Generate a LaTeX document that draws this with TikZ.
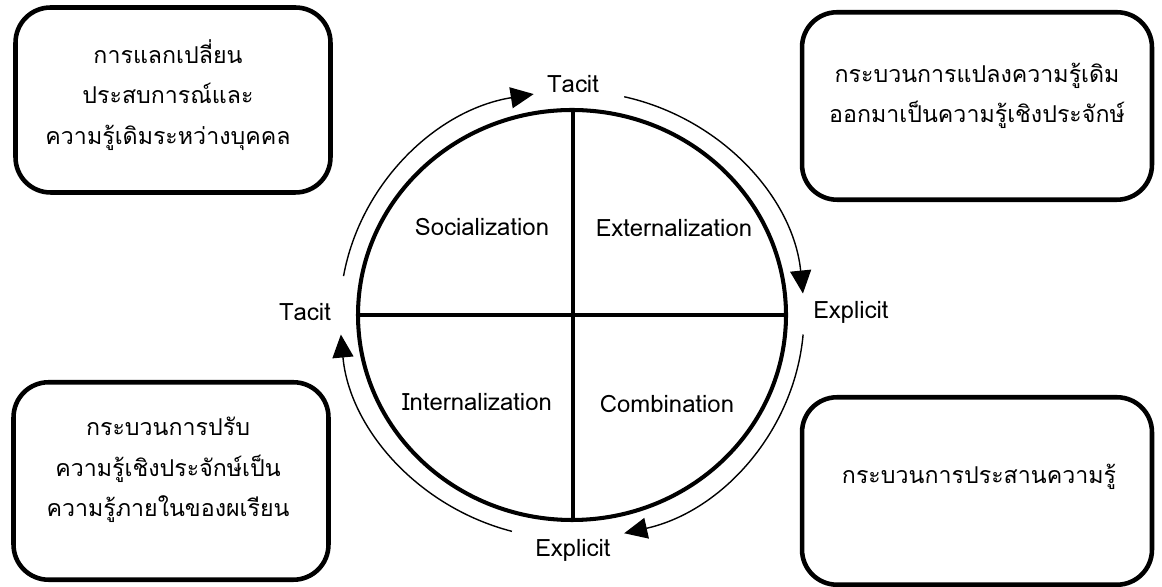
\documentclass[tikz,border=0pt]{standalone}
\usepackage{fontspec}
\setmainfont[Script=Thai]{Loma}
\usepackage{tikz}
\usetikzlibrary{positioning, arrows.meta, calc}

\begin{document}
\begin{tikzpicture}[
  x=0.02cm, y=0.02cm,
  box/.style={draw, line width=2.6pt, rounded corners=0.7cm, minimum width=6.3cm,
              minimum height=3.7cm},
  boxtext/.style={align=center, font=\fontsize{13.2}{23}\selectfont},
  quad/.style={font=\fontsize{13.6}{16}\selectfont},
  side/.style={font=\fontsize{13.6}{16}\selectfont},
  rim/.style={line width=2.3pt},
  cycle/.style={-{Triangle[length=0.46cm, width=0.42cm]}, line width=0.8pt},
]
  \useasboundingbox (0,0) rectangle (1162,587);
  % Circle
  \coordinate (c) at (572,272);
  \coordinate (ctop) at (573,477);
  \coordinate (cbot) at (573,67);
  \coordinate (cleft) at (358,272);
  \coordinate (cright) at (786,272);
  \draw[rim] (c) ellipse[x radius=214, y radius=205];
  \draw[rim] (ctop) -- (cbot);
  \draw[rim] (cleft) -- (cright);
  % Quadrants
  \node[quad] (soc) at (482,360) {Socialization};
  \node[quad] (ext) at (674,359) {Externalization};
  \node[quad] (int) at (477,185) {Internalization};
  \node[quad] (com) at (667,183) {Combination};
  % Side labels
  \node[side] (tacittop) at (573,503) {Tacit};
  \node[side] (explright) at (851,275) {Explicit};
  \node[side] (tacitleft) at (305,275) {Tacit};
  \node[side] (explbot) at (573,37) {Explicit};
  % Cycle arrows
  \draw[cycle] (c) ++(170:232 and 224) arc[start angle=170, end angle=99.5, x radius=232, y radius=224];
  \draw[cycle] (c) ++(77:232 and 224) arc[start angle=77, end angle=5.5, x radius=232, y radius=224];
  \draw[cycle] (c) ++(-5:232 and 224) arc[start angle=-5, end angle=-77, x radius=232, y radius=224];
  \draw[cycle] (c) ++(-105:232 and 224) arc[start angle=-105, end angle=-175, x radius=232, y radius=224];
  % Boxes
  \node[box] (tl) at (173,487) {};
  \node[box, minimum width=7cm, minimum height=3.75cm] (tr) at (977,481) {};
  \node[box, minimum height=3.95cm] (bl) at (171,106) {};
  \node[box, minimum width=7cm, minimum height=3.75cm] (br) at (977,96) {};
  % Box texts
  \node[boxtext] (tltext) at (168,492) {การแลกเปลี่ยน\\ประสบการณ์และ\\ความรู้เดิมระหว่างบุคคล};
  \node[boxtext] (trtext) at (977,491) {กระบวนการแปลงความรู้เดิม\\ออกมาเป็นความรู้เชิงประจักษ์};
  \node[boxtext] (bltext) at (168,117) {กระบวนการปรับ\\ความรู้เชิงประจักษ์เป็น\\ความรู้ภายในของผเรียน};
  \node[boxtext] (brtext) at (979,110) {กระบวนการประสานความรู้};
\end{tikzpicture}
\end{document}
